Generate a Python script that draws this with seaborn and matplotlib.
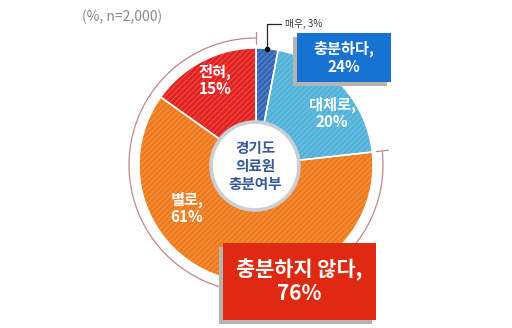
import numpy as np
import matplotlib
matplotlib.use("Agg")
import matplotlib.pyplot as plt
from matplotlib.patches import Circle, Rectangle, Arc
import seaborn as sns

# Survey shares (%), clockwise from 12 o'clock
categories = ["매우", "대체로", "별로", "전혀"]
values = [3, 20, 61, 15]
slice_colors = ["#3468b6", "#52b2da", "#f07b1c", "#e2231f"]
slice_labels = ["매우, 3%", "대체로,\n20%", "별로,\n61%", "전혀,\n15%"]

group_labels = ["충분하다,\n24%", "충분하지 않다,\n76%"]
group_values = [24, 76]
center_title = "경기도\n의료원\n충분여부"
note = "(%, n=2,000)"

sns.set_theme(style="white")
plt.rcParams["font.family"] = ["Noto Sans CJK KR", "DejaVu Sans"]
plt.rcParams["hatch.linewidth"] = 0.35

W, H = 512, 328
fig = plt.figure(figsize=(W / 100, H / 100), dpi=100)
ax = fig.add_axes([0, 0, 1, 1])


def Y(y):
    return H - y


cx, cy, R = 256, 165, 117

# striped fill
ax.pie(
    values, colors=slice_colors, startangle=90, counterclock=False,
    center=(cx, Y(cy)), radius=R, frame=True,
    wedgeprops=dict(edgecolor=(1, 1, 1, 0.4), linewidth=0, hatch="//////"),
)
# white separators between slices
ax.pie(
    values, colors=["none"] * len(values), startangle=90, counterclock=False,
    center=(cx, Y(cy)), radius=R, frame=True,
    wedgeprops=dict(edgecolor="white", linewidth=1.1, fill=False),
)
ax.set_xlim(0, W)
ax.set_ylim(0, H)
ax.set_aspect("equal")
ax.axis("off")

# bracket arc around the "not enough" share
total = sum(values)
span = 360 * (values[2] + values[3]) / total
Ro = 127
arc_col = "#c4868a"
ax.add_patch(Arc((cx, Y(cy)), 2 * Ro, 2 * Ro, theta1=90, theta2=90 + span,
                 color=arc_col, lw=0.9))
for ang in (90, 90 + span):
    a = np.deg2rad(ang)
    ax.plot([cx + (Ro - 6) * np.cos(a), cx + (Ro + 6) * np.cos(a)],
            [Y(cy) + (Ro - 6) * np.sin(a), Y(cy) + (Ro + 6) * np.sin(a)],
            color=arc_col, lw=0.9)

# centre badge
ax.add_patch(Circle((cx - 1, Y(cy + 1)), 44, facecolor="white",
                    edgecolor="#c9ced4", lw=2.6, zorder=5))
ax.text(cx - 1, Y(cy + 1), center_title, ha="center", va="center",
        fontsize=10.5, fontweight="bold", color="#34599a",
        linespacing=1.15, zorder=6)

# slice labels
lab_kw = dict(ha="center", va="center", fontsize=11, fontweight="bold",
              color="white", linespacing=1.1, zorder=4)
ax.text(332, Y(113), slice_labels[1], **lab_kw)
ax.text(187, Y(208), slice_labels[2], **lab_kw)
ax.text(215, Y(80), slice_labels[3], **lab_kw)

# leader for the thin top slice
a = np.deg2rad(90 - 360 * values[0] / total / 2)
px, py = cx + R * np.cos(a), Y(cy) + R * np.sin(a)
ax.plot([px, px, 281], [py, Y(24), Y(24)], color="#222222", lw=0.9, zorder=4)
ax.plot([px], [py], "o", color="#111111", ms=3, zorder=4)
ax.text(285, Y(24), slice_labels[0], ha="left", va="center",
        fontsize=7, color="#333333")


# group boxes with drop shadow
def box(x0, y0, x1, y1, color, text, fs):
    ax.add_patch(Rectangle((x0 - 4, Y(y1 + 4)), x1 - x0, y1 - y0,
                           facecolor="#b4b4b4", edgecolor="none", zorder=7))
    ax.add_patch(Rectangle((x0, Y(y1)), x1 - x0, y1 - y0,
                           facecolor=color, edgecolor="none", zorder=8))
    ax.text((x0 + x1) / 2, Y((y0 + y1) / 2), text, ha="center", va="center",
            fontsize=fs, fontweight="bold", color="white",
            linespacing=1.15, zorder=9)


box(297, 33, 391, 82, "#1772d2", group_labels[0], 11)
box(223, 243, 376, 320, "#df2a12", group_labels[1], 15)

ax.text(122, Y(17), note, ha="center", va="center", fontsize=10,
        color="#8a8a8a")

fig.savefig("out.png", dpi=100)
